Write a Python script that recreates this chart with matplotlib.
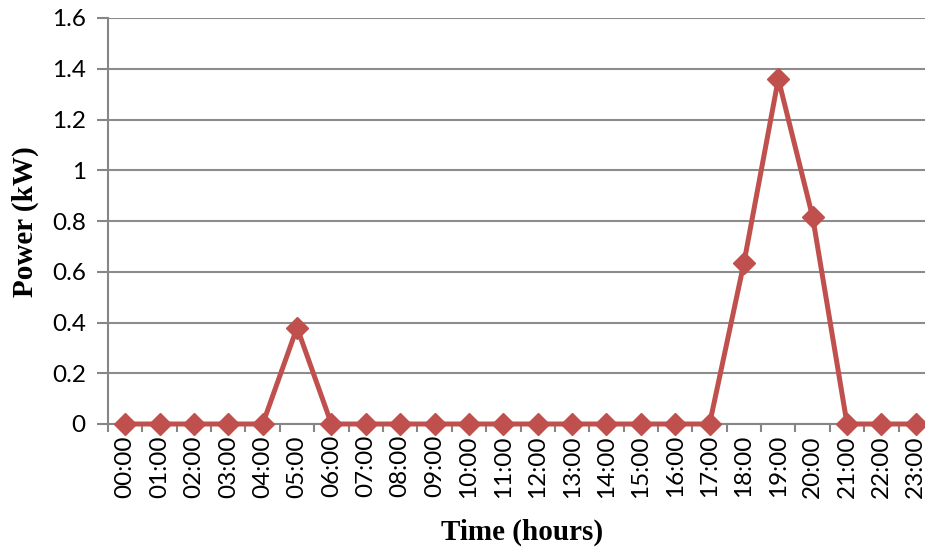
import matplotlib
matplotlib.use("Agg")
import matplotlib.pyplot as plt

# hourly power data
hours = ["%02d:00" % h for h in range(24)]
power = [0, 0, 0, 0, 0, 0.38, 0, 0, 0, 0, 0, 0, 0, 0, 0, 0, 0, 0,
         0.635, 1.36, 0.815, 0, 0, 0]
yticks = [0, 0.2, 0.4, 0.6, 0.8, 1, 1.2, 1.4, 1.6]
ytick_labels = ["0", "0.2", "0.4", "0.6", "0.8", "1", "1.2", "1.4", "1.6"]

W, H = 925, 549
fig = plt.figure(figsize=(W / 100, H / 100), dpi=100)
left, right, top, bottom = 108, 933, 18, 424
ax = fig.add_axes([left / W, (H - bottom) / H, (right - left) / W, (bottom - top) / H])

x = list(range(len(hours)))
ax.plot(x, power, color="#C0504D", lw=3.6, marker="D", ms=11, clip_on=False, zorder=3)

ax.set_xlim(-0.5, len(hours) - 0.5)
ax.set_ylim(0, 1.6)
ax.set_yticks(yticks)
ax.set_yticklabels(ytick_labels, fontsize=17.5, fontfamily="Lato")
ax.set_xticks(x)
ax.set_xticklabels(hours, rotation=90, fontsize=17.5, fontfamily="Lato")
ax.tick_params(axis="x", length=0, pad=8)
ax.set_xticks([i - 0.5 for i in range(len(hours) + 1)], minor=True)
ax.tick_params(axis="x", which="minor", length=6, color="#868686", width=1.5)
ax.tick_params(axis="y", length=8, color="#868686", width=1.5, pad=8)

ax.grid(axis="y", color="#8c8c8c", lw=1.5)
ax.set_axisbelow(True)
for s in ["top", "right"]:
    ax.spines[s].set_visible(False)
for s in ["left", "bottom"]:
    ax.spines[s].set_color("#868686")
    ax.spines[s].set_linewidth(1.5)

fig.text(25 / W, 1 - 222 / H, "Power (kW)", rotation=90, ha="center", va="center",
         fontsize=21, fontweight="bold", fontfamily="Liberation Serif")
fig.text(522 / W, 1 - 532 / H, "Time (hours)", ha="center", va="center",
         fontsize=21, fontweight="bold", fontfamily="Liberation Serif")

fig.savefig("out.png", dpi=100)
